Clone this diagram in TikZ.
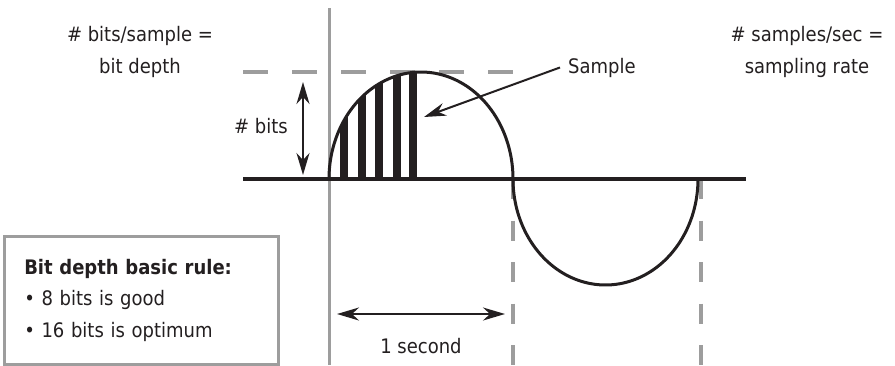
\documentclass[tikz,border=0pt]{standalone}
\usepackage{fontspec}
\setmainfont{DejaVu Sans Condensed}
\usetikzlibrary{arrows.meta,positioning}
\definecolor{axisgray}{RGB}{157,157,157}
\definecolor{inkblack}{RGB}{35,31,32}
\tikzset{
  lbl/.style={inner sep=0pt,font=\fontsize{20}{32}\selectfont,text=inkblack},
  twoline/.style={lbl,align=center},
  rulebox/.style={rectangle,draw=axisgray,line width=2.5pt,inner xsep=20pt,
    minimum width=274pt,minimum height=128pt,text width=234pt,align=left,
    font=\fontsize{20}{31.5}\selectfont,text=inkblack},
  axis/.style={line width=4pt,draw=inkblack},
  wave/.style={line width=3pt,draw=inkblack},
  guide/.style={line width=3pt,draw=axisgray},
  gridh/.style={guide,line width=3.5pt,dash pattern=on 25pt off 24pt},
  gridv/.style={guide,line width=3.5pt,dash pattern=on 20pt off 21.5pt},
  arrow/.style={-{Stealth[length=22pt,width=13pt,inset=7pt]},line width=2pt,draw=inkblack},
  dblarrow/.style={arrow,{Stealth[length=22pt,width=13pt,inset=7pt]}-{Stealth[length=22pt,width=13pt,inset=7pt]}}
}

\begin{document}
\begin{tikzpicture}[x=1pt,y=-1pt]
  \useasboundingbox (0,0) rectangle (895,365);

  % guide lines
  \coordinate (ytop) at (329,8);
  \coordinate (ybot) at (329,365);
  \coordinate (peakl) at (243,72);
  \coordinate (peakr) at (515,72);
  \coordinate (halftop) at (513,179);
  \coordinate (halfbot) at (513,365);
  \coordinate (fulltop) at (701,179);
  \coordinate (fullbot) at (701,365);
  \draw[guide] (ytop) -- (ybot);
  \draw[gridh] (peakl) -- (peakr);
  \draw[gridv] (halftop) -- (halfbot);
  \draw[gridv] (fulltop) -- (fullbot);

  % samples under the first half wave
  \begin{scope}
    \clip plot[domain=180:0,samples=90] ({421+92*cos(\x)},{179-107*sin(\x)}) -- cycle;
    \foreach \bx in {344,362,379,397,413}
      \fill[inkblack] (\bx-4,179) rectangle (\bx+4,60);
  \end{scope}

  % time axis and wave
  \coordinate (axl) at (243,179);
  \coordinate (axr) at (746,179);
  \draw[axis] (axl) -- (axr);
  \draw[wave] plot[domain=180:0,samples=90] ({421+92*cos(\x)},{179-107*sin(\x)});
  \draw[wave] plot[domain=180:360,samples=90] ({605.5+92.5*cos(\x)},{179-106*sin(\x)});

  % labels
  \node[twoline] (depth) at (140,51.5) {\# bits/sample =\\bit depth};
  \node[twoline] (rate)  at (807,51.5) {\# samples/sec =\\sampling rate};
  \node[lbl,anchor=base west] (smp) at (568,73) {Sample};
  \node[lbl,anchor=base east] (bits) at (288,133) {\# bits};
  \node[lbl,anchor=base] (sec) at (421,353) {1 second};
  \node[rulebox,anchor=north west] (rule) at (3,235)
    {\textbf{Bit depth basic rule:}\\
     \textbullet\ 8 bits is good\\
     \textbullet\ 16 bits is optimum};

  % arrows
  \coordinate (smptip) at (424,117);
  \coordinate (bitstop) at (303,82);
  \coordinate (bitsbot) at (303,175);
  \coordinate (secl) at (337,314);
  \coordinate (secr) at (505,314);
  \draw[arrow] ([xshift=-8pt]smp.west) -- (smptip);
  \draw[dblarrow] (bitstop) -- (bitsbot);
  \draw[dblarrow] (secl) -- (secr);
\end{tikzpicture}
\end{document}
